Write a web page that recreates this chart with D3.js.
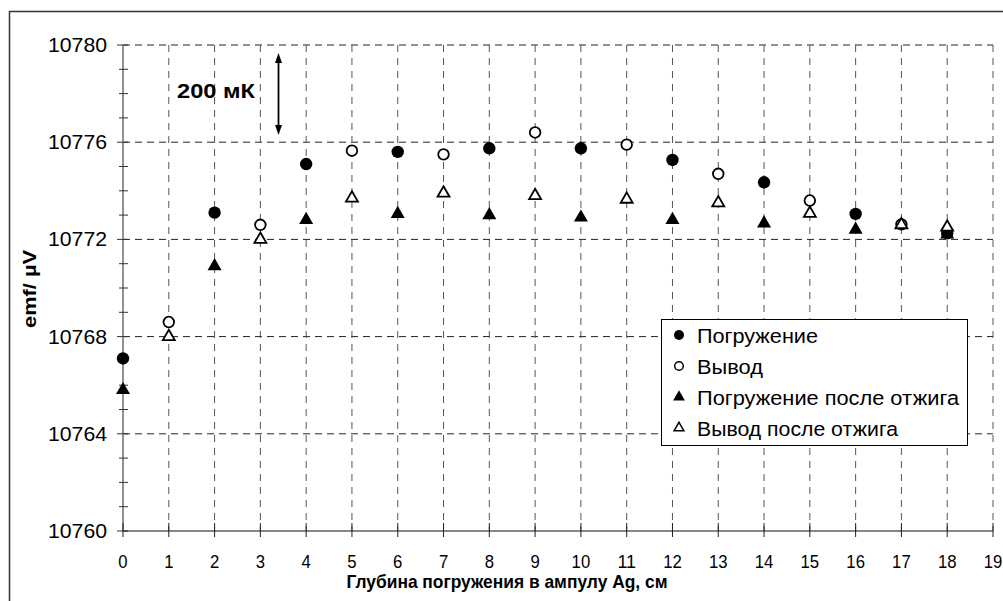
<!DOCTYPE html>
<html><head><meta charset="utf-8">
<script src="https://cdn.jsdelivr.net/npm/d3@7"></script>
<style>body{margin:0;background:#fff;} svg{display:block;font-family:"Liberation Sans",Arial,sans-serif;}</style>
</head><body>
<svg id="c" width="1003" height="601"></svg>
<script>
// Data
const xEven = [0,2,4,6,8,10,12,14,16,18];
const xOdd = [1,3,5,7,9,11,13,15,17];
const xOddPlus = [1,3,5,7,9,11,13,15,17,18];
const immersion = [10767.1,10773.1,10775.1,10775.6,10775.75,10775.75,10775.27,10774.35,10773.05,10772.25];
const withdrawal = [10768.6,10772.6,10775.65,10775.5,10776.4,10775.9,10774.7,10773.6,10772.62];
const immersionAnnealed = [10765.8,10770.9,10772.8,10773.05,10773.0,10772.9,10772.8,10772.66,10772.4,10772.2];
const withdrawalAnnealed = [10768.0,10772.0,10773.7,10773.9,10773.8,10773.65,10773.5,10773.07,10772.6,10772.5];
const seriesNames = ["Погружение","Вывод","Погружение после отжига","Вывод после отжига"];
const xTicks = d3.range(0,20);
const yMajor = [10760,10764,10768,10772,10776,10780];
const yMinor = d3.range(10760,10781);

const svg = d3.select("#c");
const x = d3.scaleLinear().domain([0,19]).range([123,993]);
const y = d3.scaleLinear().domain([10760,10780]).range([531,45]);

// outer frame
svg.append("rect").attr("x",9.5).attr("y",11.5).attr("width",1100).attr("height",700)
  .attr("fill","none").attr("stroke","#333").attr("stroke-width",1.5);

// gridlines
svg.append("g").selectAll("line").data(yMajor.slice(1)).join("line")
  .attr("x1",x(0)).attr("x2",x(19)).attr("y1",d=>y(d)).attr("y2",d=>y(d))
  .attr("stroke","#222").attr("stroke-width",1).attr("stroke-dasharray","7,5");
svg.append("g").selectAll("line").data(xTicks.slice(1)).join("line")
  .attr("x1",d=>x(d)).attr("x2",d=>x(d)).attr("y1",y(10780)).attr("y2",y(10760))
  .attr("stroke","#555").attr("stroke-width",1).attr("stroke-dasharray","7,6");

// y axis
const yAxisG = svg.append("g");
yAxisG.append("line").attr("x1",x(0)).attr("x2",x(0)).attr("y1",y(10780)).attr("y2",y(10760))
  .attr("stroke","#777").attr("stroke-width",1.6);
yAxisG.selectAll("line.mn").data(yMinor).join("line").attr("class","mn")
  .attr("x1",d=>yMajor.includes(d)?117:119).attr("x2",128).attr("y1",d=>y(d)).attr("y2",d=>y(d))
  .attr("stroke","#333").attr("stroke-width",1);
yAxisG.selectAll("text").data(yMajor).join("text")
  .attr("x",107).attr("y",d=>y(d)+7).attr("text-anchor","end")
  .attr("font-size",20).attr("textLength",59).attr("lengthAdjust","spacingAndGlyphs")
  .text(d=>d);

// x axis
const xAxisG = svg.append("g");
xAxisG.append("line").attr("x1",x(0)).attr("x2",x(19)).attr("y1",y(10760)).attr("y2",y(10760))
  .attr("stroke","#111").attr("stroke-width",1.2);
xAxisG.selectAll("line.t").data(xTicks).join("line").attr("class","t")
  .attr("x1",d=>x(d)).attr("x2",d=>x(d)).attr("y1",523).attr("y2",537)
  .attr("stroke","#222").attr("stroke-width",1);
xAxisG.selectAll("text").data(xTicks).join("text")
  .attr("x",d=>x(d)).attr("y",568).attr("text-anchor","middle")
  .attr("font-size",18.5).attr("textLength",d=>String(d).length*9.3).attr("lengthAdjust","spacingAndGlyphs")
  .text(d=>d);

// titles
svg.append("text").attr("x",507).attr("y",588).attr("text-anchor","middle")
  .attr("font-size",19).attr("font-weight","bold")
  .attr("textLength",321).attr("lengthAdjust","spacingAndGlyphs")
  .text("Глубина погружения в ампулу Ag, см");
svg.append("text").attr("transform","translate(36,289) rotate(-90)").attr("text-anchor","middle")
  .attr("font-size",18.5).attr("font-weight","bold")
  .attr("textLength",78).attr("lengthAdjust","spacingAndGlyphs")
  .text("emf/ µV");

// 200 mK annotation
svg.append("text").attr("x",177).attr("y",97.5).attr("font-size",20).attr("font-weight","bold")
  .attr("textLength",78).attr("lengthAdjust","spacingAndGlyphs").text("200 мК");
const ax = 278.5;
svg.append("line").attr("x1",ax).attr("x2",ax).attr("y1",58).attr("y2",130).attr("stroke","#000").attr("stroke-width",1.8);
svg.append("path").attr("d",`M${ax-3.5},${63} L${ax},${53} L${ax+3.5},${63} Z`).attr("fill","#000");
svg.append("path").attr("d",`M${ax-3.5},${125} L${ax},${135} L${ax+3.5},${125} Z`).attr("fill","#000");

// markers
const tri = d3.symbol().type(d3.symbolTriangle);
const plot = svg.append("g");
plot.selectAll("circle.s1").data(d3.zip(xEven,immersion)).join("circle").attr("class","s1")
  .attr("cx",d=>x(d[0])).attr("cy",d=>y(d[1])).attr("r",6.2).attr("fill","#000");
plot.selectAll("circle.s2").data(d3.zip(xOdd,withdrawal)).join("circle").attr("class","s2")
  .attr("cx",d=>x(d[0])).attr("cy",d=>y(d[1])).attr("r",5.3).attr("fill","#fff").attr("stroke","#000").attr("stroke-width",1.8);
plot.selectAll("path.s3").data(d3.zip(xEven,immersionAnnealed)).join("path").attr("class","s3")
  .attr("d",tri.size(85)()).attr("transform",d=>`translate(${x(d[0])},${y(d[1])})`).attr("fill","#000");
plot.selectAll("path.s4").data(d3.zip(xOddPlus,withdrawalAnnealed)).join("path").attr("class","s4")
  .attr("d",tri.size(62)()).attr("transform",d=>`translate(${x(d[0])},${y(d[1])})`)
  .attr("fill","#fff").attr("stroke","#000").attr("stroke-width",1.8);

// legend
const lg = svg.append("g");
lg.append("rect").attr("x",661.5).attr("y",319.5).attr("width",306).attr("height",126)
  .attr("fill","#fff").attr("stroke","#000").attr("stroke-width",1);
const rows = [335,366,397,428];
const legendWidths = [121,66,262,201];
lg.append("circle").attr("cx",679).attr("cy",rows[0]).attr("r",5).attr("fill","#000");
lg.append("circle").attr("cx",679).attr("cy",rows[1]).attr("r",4.3).attr("fill","#fff").attr("stroke","#000").attr("stroke-width",1.5);
lg.append("path").attr("d",tri.size(60)()).attr("transform",`translate(679,${rows[2]})`).attr("fill","#000");
lg.append("path").attr("d",tri.size(42)()).attr("transform",`translate(679,${rows[3]})`).attr("fill","#fff").attr("stroke","#000").attr("stroke-width",1.5);
lg.selectAll("text").data(seriesNames).join("text")
  .attr("x",697).attr("y",(d,i)=>rows[i]+7.5).attr("font-size",20.5)
  .attr("textLength",(d,i)=>legendWidths[i]).attr("lengthAdjust","spacingAndGlyphs").text(d=>d);
</script>
</body></html>
